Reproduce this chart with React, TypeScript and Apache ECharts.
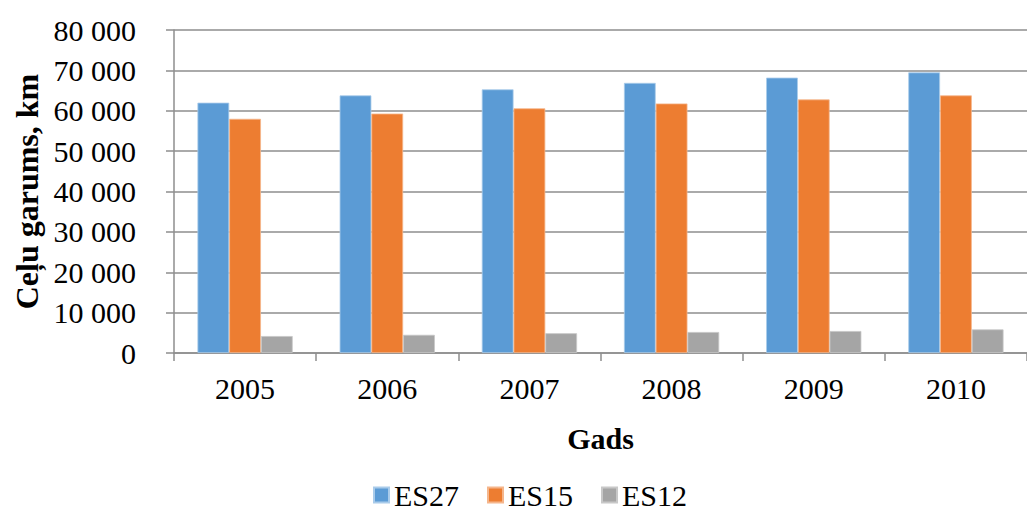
import React, { useEffect, useRef } from "react";
import * as echarts from "echarts";

const categories = ["2005", "2006", "2007", "2008", "2009", "2010"];
const es27 = [62000, 63800, 65300, 66900, 68200, 69500];
const es15 = [58000, 59300, 60600, 61800, 62800, 63800];
const es12 = [4200, 4500, 4900, 5200, 5450, 5850];

const FONT = "'Liberation Serif', 'Times New Roman', serif";
const AXIS_GRAY = "#8E8E8E";

export default function App() {
  const ref = useRef<HTMLDivElement>(null);
  useEffect(() => {
    if (!ref.current) return;
    const chart = echarts.init(ref.current, null, { renderer: "svg" });
    chart.setOption({
      animation: false,
      backgroundColor: "#ffffff",
      textStyle: { fontFamily: FONT },
      grid: { left: 174, top: 30, bottom: 157, right: -11, containLabel: false },
      legend: {
        left: 368,
        top: 475,
        itemWidth: 15,
        itemHeight: 15,
        itemGap: 28,
        icon: "rect",
        textStyle: { fontFamily: FONT, fontSize: 30, color: "#000" },
        data: ["ES27", "ES15", "ES12"],
      },
      xAxis: {
        type: "category",
        data: categories,
        name: "Gads",
        nameLocation: "middle",
        nameGap: 70,
        nameTextStyle: { fontFamily: FONT, fontSize: 30, fontWeight: "bold", color: "#000" },
        axisLine: { show: true, lineStyle: { color: AXIS_GRAY, width: 1.5 } },
        axisTick: { show: true, length: 8, alignWithLabel: false, lineStyle: { color: AXIS_GRAY, width: 1.5 } },
        axisLabel: { fontFamily: FONT, fontSize: 30, color: "#000", margin: 20 },
        splitLine: { show: false },
      },
      yAxis: {
        type: "value",
        min: 0,
        max: 80000,
        interval: 10000,
        name: "Ceļu garums, km",
        nameLocation: "middle",
        nameGap: 126,
        nameRotate: 90,
        nameTextStyle: { fontFamily: FONT, fontSize: 32, fontWeight: "bold", color: "#000" },
        axisLine: { show: true, lineStyle: { color: AXIS_GRAY, width: 1.5 } },
        axisTick: { show: true, length: 8, lineStyle: { color: AXIS_GRAY, width: 1.5 } },
        axisLabel: {
          fontFamily: FONT,
          fontSize: 30,
          color: "#000",
          margin: 38,
          formatter: (v: number) => {
            if (v === 0) return "0";
            const s = String(v);
            return s.slice(0, s.length - 3) + " " + s.slice(s.length - 3);
          },
        },
        splitLine: { show: true, lineStyle: { color: AXIS_GRAY, width: 1.5 } },
      },
      series: [
        {
          name: "ES27",
          type: "bar",
          data: es27,
          barGap: "0%",
          barCategoryGap: "33%",
          itemStyle: { color: "#5B9BD5", borderColor: "#A9CBEA", borderWidth: 0.8 },
        },
        {
          name: "ES15",
          type: "bar",
          data: es15,
          itemStyle: { color: "#ED7D31", borderColor: "#F5B68C", borderWidth: 0.8 },
        },
        {
          name: "ES12",
          type: "bar",
          data: es12,
          itemStyle: { color: "#A5A5A5", borderColor: "#C8C8C8", borderWidth: 0.8 },
        },
      ],
    });
    return () => chart.dispose();
  }, []);
  return (
    <div
      ref={ref}
      style={{ position: "fixed", left: 0, top: 0, width: 1027, height: 510, background: "#fff" }}
    />
  );
}
